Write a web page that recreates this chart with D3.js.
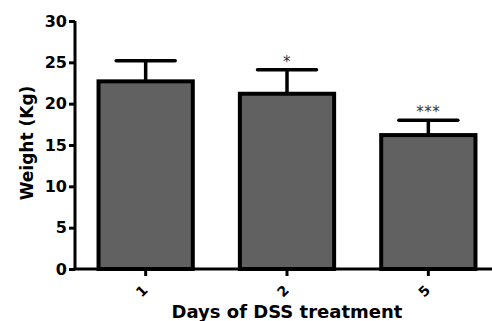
<!DOCTYPE html>
<html>
<head>
<meta charset="utf-8">
<script src="https://cdn.jsdelivr.net/npm/d3@7.9.0/dist/d3.min.js"></script>
<style>
  body { margin: 0; background: #fff; }
  svg { display: block; font-family: "DejaVu Sans", Arial, sans-serif; }
</style>
</head>
<body>
<svg id="chart" width="492" height="321"></svg>
<script>
// data
const days = ["1", "2", "5"];
const weight = [22.7, 21.2, 16.2];
const sem = [2.5, 2.9, 1.8];
const stars = ["", "*", "***"];
const yTicks = [0, 5, 10, 15, 20, 25, 30];

const svg = d3.select("#chart");
const font = "'DejaVu Sans', Arial, sans-serif";

const x = d3.scaleBand()
  .domain(days)
  .range([75, 499])
  .paddingInner(0.333)
  .paddingOuter(0.1665);

const y = d3.scaleLinear()
  .domain([0, 30])
  .range([269, 21]);

// bars
svg.selectAll("rect.bar")
  .data(days)
  .join("rect")
  .attr("class", "bar")
  .attr("x", d => x(d))
  .attr("width", x.bandwidth())
  .attr("y", (d, i) => y(weight[i]))
  .attr("height", (d, i) => y(0) - y(weight[i]))
  .attr("fill", "#616161")
  .attr("stroke", "#000")
  .attr("stroke-width", 4);

// error bars (upper only)
const capW = 59;
const eb = svg.selectAll("g.err")
  .data(days)
  .join("g")
  .attr("class", "err")
  .attr("transform", d => `translate(${x(d) + x.bandwidth() / 2},0)`);

eb.append("line")
  .attr("y1", (d, i) => y(weight[i]))
  .attr("y2", (d, i) => y(weight[i] + sem[i]))
  .attr("stroke", "#000")
  .attr("stroke-width", 3.5);

eb.append("line")
  .attr("x1", -capW / 2)
  .attr("x2", capW / 2)
  .attr("y1", (d, i) => y(weight[i] + sem[i]))
  .attr("y2", (d, i) => y(weight[i] + sem[i]))
  .attr("stroke", "#000")
  .attr("stroke-width", 3.5)
  .attr("stroke-linecap", "round");

// significance stars
eb.append("text")
  .attr("y", (d, i) => y(weight[i] + sem[i]) - 3)
  .attr("text-anchor", "middle")
  .attr("font-size", 15)
  .attr("font-family", font)
  .attr("fill", "#333")
  .attr("letter-spacing", 0.5)
  .text((d, i) => stars[i]);

// y axis
const yAxis = svg.append("g")
  .attr("transform", "translate(75,0)")
  .call(d3.axisLeft(y).tickValues(yTicks).tickSize(6).tickPadding(2));
yAxis.select(".domain").attr("stroke-width", 3).attr("d", `M0,${y(30)}V${y(0)}`);
yAxis.selectAll(".tick line").attr("stroke-width", 3);
yAxis.selectAll(".tick text")
  .attr("font-size", 16)
  .attr("font-weight", "bold")
  .attr("fill", "#000")
  .attr("font-family", font);

// x axis
const xAxis = svg.append("g")
  .attr("transform", `translate(0,${y(0)})`)
  .call(d3.axisBottom(x).tickSize(7).tickPadding(4));
xAxis.select(".domain").attr("stroke-width", 3).attr("d", "M73.5,0H499");
xAxis.selectAll(".tick line").attr("stroke-width", 3);
xAxis.selectAll(".tick text")
  .attr("font-size", 14)
  .attr("font-weight", "bold")
  .attr("fill", "#000")
  .attr("font-family", font)
  .attr("text-anchor", "middle")
  .attr("y", 0)
  .attr("dy", "0.35em")
  .attr("transform", "translate(-4,22) rotate(-45)");

// axis titles
svg.append("text")
  .attr("x", 287)
  .attr("y", 318)
  .attr("text-anchor", "middle")
  .attr("font-size", 18)
  .attr("font-weight", "bold")
  .attr("font-family", font)
  .text("Days of DSS treatment");

svg.append("text")
  .attr("transform", "translate(33,143) rotate(-90)")
  .attr("text-anchor", "middle")
  .attr("font-size", 17)
  .attr("font-weight", "bold")
  .attr("font-family", font)
  .text("Weight (Kg)");
</script>
</body>
</html>
